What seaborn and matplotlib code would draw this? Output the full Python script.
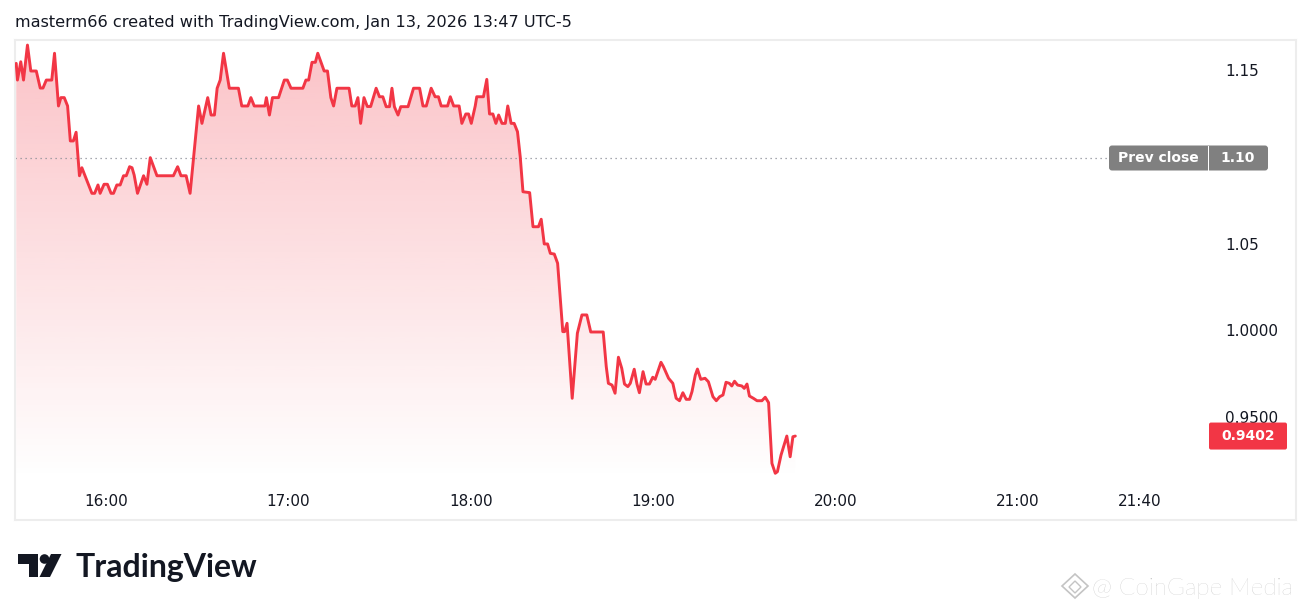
import numpy as np
import matplotlib
matplotlib.use("Agg")
import matplotlib.pyplot as plt
import seaborn as sns
import pandas as pd
from matplotlib.patches import FancyBboxPatch, Rectangle, Circle, Polygon
from matplotlib.transforms import IdentityTransform, blended_transform_factory

# ---------------- data (minutes after 15:30, price) ----------------
minutes = [0.4, 0.8, 1.9, 2.8, 4.1, 5.2, 7.0, 8.3, 9.2, 10.3, 12.1, 13.0, 14.3, 15.1, 16.2, 17.3,
           18.2, 19.2, 20.1, 21.2, 22.0, 25.3, 26.2, 27.3, 28.0, 29.3, 30.4, 31.6, 32.4, 33.5, 34.6,
           35.7, 36.6, 37.7, 38.5, 39.2, 40.3, 42.3, 43.4, 44.5, 46.7, 52.1, 53.5, 54.6, 56.3, 57.6,
           60.4, 61.5, 63.4, 64.5, 65.6, 66.5, 67.5, 68.6, 70.5, 73.5, 74.6, 76.6, 77.6, 78.7, 82.2,
           82.7, 83.7, 84.7, 86.7, 88.6, 89.6, 90.8, 94.7, 95.7, 96.6, 97.7, 98.8, 99.6, 101.7, 102.8,
           103.9, 104.8, 105.9, 109.9, 110.8, 111.9, 112.8, 113.7, 114.8, 115.9, 117.0, 118.8, 119.9,
           121.0, 122.1, 123.2, 124.0, 124.8, 126.0, 126.9, 129.3, 131.1, 133.1, 134.2, 135.3, 136.9,
           138.2, 139.3, 140.2, 142.3, 143.2, 144.3, 146.1, 147.0, 148.3, 149.2, 150.1, 151.4, 151.9,
           154.1, 155.2, 156.1, 157.2, 158.2, 159.1, 160.2, 161.3, 162.1, 163.2, 164.2, 165.3, 166.2,
           167.1, 169.3, 170.4, 172.2, 173.1, 174.1, 175.2, 176.1, 177.4, 178.5, 180.2, 180.8, 181.6,
           183.3, 185.0, 186.5, 188.1, 189.4, 193.5, 194.5, 195.2, 196.4, 197.4, 198.5, 199.6, 200.5,
           201.6, 202.4, 203.7, 204.6, 205.4, 206.6, 207.6, 208.7, 209.8, 210.6, 212.5, 213.3, 215.0,
           216.4, 217.5, 218.6, 219.7, 220.8, 221.9, 222.7, 223.8, 224.5, 225.6, 227.0, 228.1, 229.6,
           230.7, 231.8, 232.9, 233.9, 235.0, 235.8, 236.7, 237.7, 239.1, 239.9, 240.8, 241.6, 242.9,
           244.1, 245.7, 246.8, 247.9, 249.0, 250.1, 250.8, 252.0, 253.0, 253.9, 255.0, 255.9, 256.7]
prices = [1.1544, 1.1448, 1.1553, 1.1448, 1.1649, 1.1500, 1.1500, 1.1402, 1.1402, 1.1448, 1.1448,
          1.1602, 1.1299, 1.1347, 1.1347, 1.1299, 1.1098, 1.1098, 1.1148, 1.0898, 1.0944, 1.0797,
          1.0797, 1.0845, 1.0797, 1.0849, 1.0849, 1.0797, 1.0797, 1.0845, 1.0845, 1.0898, 1.0898,
          1.0950, 1.0944, 1.0902, 1.0797, 1.0898, 1.0849, 1.1002, 1.0898, 1.0898, 1.0950, 1.0898,
          1.0898, 1.0797, 1.1299, 1.1199, 1.1347, 1.1247, 1.1247, 1.1401, 1.1448, 1.1602, 1.1401,
          1.1401, 1.1299, 1.1299, 1.1347, 1.1299, 1.1299, 1.1347, 1.1247, 1.1347, 1.1347, 1.1448,
          1.1448, 1.1401, 1.1401, 1.1448, 1.1448, 1.1550, 1.1550, 1.1602, 1.1500, 1.1500, 1.1347,
          1.1299, 1.1401, 1.1401, 1.1299, 1.1299, 1.1347, 1.1199, 1.1347, 1.1296, 1.1296, 1.1401,
          1.1352, 1.1352, 1.1295, 1.1295, 1.1401, 1.1295, 1.1247, 1.1295, 1.1295, 1.1401, 1.1401,
          1.1299, 1.1299, 1.1401, 1.1352, 1.1352, 1.1299, 1.1299, 1.1352, 1.1299, 1.1299, 1.1199,
          1.1253, 1.1253, 1.1199, 1.1299, 1.1352, 1.1352, 1.1452, 1.1253, 1.1253, 1.1199, 1.1247,
          1.1199, 1.1199, 1.1299, 1.1199, 1.1199, 1.1151, 1.1007, 1.0806, 1.0801, 1.0605, 1.0605,
          1.0648, 1.0506, 1.0506, 1.0452, 1.0448, 1.0395, 1.0002, 1.0002, 1.0050, 0.9619, 0.9993,
          1.0098, 1.0098, 1.0000, 1.0000, 0.9801, 0.9705, 0.9695, 0.9648, 0.9855, 0.9791, 0.9701,
          0.9686, 0.9705, 0.9786, 0.9701, 0.9651, 0.9772, 0.9701, 0.9701, 0.9740, 0.9728, 0.9826,
          0.9801, 0.9734, 0.9705, 0.9619, 0.9605, 0.9651, 0.9613, 0.9613, 0.9657, 0.9753, 0.9787,
          0.9728, 0.9734, 0.9714, 0.9628, 0.9605, 0.9628, 0.9638, 0.9711, 0.9705, 0.9690, 0.9717,
          0.9695, 0.9690, 0.9676, 0.9701, 0.9632, 0.9619, 0.9605, 0.9605, 0.9625, 0.9594, 0.9245,
          0.9188, 0.9197, 0.9293, 0.9351, 0.9402, 0.9283, 0.9398, 0.9402]

time_tick_minutes = [30, 90, 150, 210, 270, 330, 370]
time_tick_labels = ["16:00", "17:00", "18:00", "19:00", "20:00", "21:00", "21:40"]
price_tick_values = [1.15, 1.05, 1.00, 0.95]
price_tick_labels = ["1.15", "1.05", "1.0000", "0.9500"]
prev_close = 1.10
prev_close_label = "1.10"
last_price = 0.9402
last_price_label = "0.9402"
header_text = "masterm66 created with TradingView.com, Jan 13, 2026 13:47 UTC-5"
brand_text = "TradingView"
watermark_text = "@ CoinGape Media"

# ---------------- style ----------------
RED = "#f23645"
INK = "#131722"
sns.set_theme(style="white")
plt.rcParams["font.family"] = ["DejaVu Sans"]

W, H = 1311, 611
fig = plt.figure(figsize=(W / 100, H / 100), dpi=100)
fig.patch.set_facecolor("white")


def fx(px):
    return px / W


def fy(py):
    return 1 - py / H


ax = fig.add_axes([fx(15), fy(520), (1296 - 15) / W, (520 - 40) / H])
ax.set_facecolor("white")

df = pd.DataFrame({"minute": minutes, "price": prices})

XMIN, XMAX = 0.0, 421.4
YMIN, YMAX = 0.89195, 1.16782
PANE_BOTTOM = 0.9149

# gradient fill under the line
poly = ax.fill_between(df["minute"], df["price"], PANE_BOTTOM, facecolor="none", edgecolor="none")
n = 256
alpha = np.linspace(0.0, 0.30, n).reshape(n, 1)
rgba = np.zeros((n, 1, 4))
rgba[..., 0] = 242 / 255
rgba[..., 1] = 54 / 255
rgba[..., 2] = 69 / 255
rgba[..., 3] = alpha
im = ax.imshow(rgba, extent=[XMIN, XMAX, PANE_BOTTOM, 1.165], origin="lower",
               aspect="auto", interpolation="bilinear", zorder=1)
im.set_clip_path(poly.get_paths()[0], transform=ax.transData)

sns.lineplot(data=df, x="minute", y="price", color=RED, linewidth=2.1,
             estimator=None, sort=False, ax=ax, zorder=3)

ax.set_xlim(XMIN, XMAX)
ax.set_ylim(YMIN, YMAX)
ax.set_xticks([])
ax.set_yticks([])
ax.set_xlabel("")
ax.set_ylabel("")
for sp in ax.spines.values():
    sp.set_visible(True)
    sp.set_color("#ededed")
    sp.set_linewidth(1.5)

# previous-close dotted line
trans_xa_yd = blended_transform_factory(ax.transAxes, ax.transData)
ax.plot([0, (1109 - 15) / 1281], [prev_close, prev_close], transform=trans_xa_yd,
        color="#8a8d96", linewidth=0.9, linestyle=(0, (1, 3)), zorder=2)

# time labels
trans_xd_ya = blended_transform_factory(ax.transData, ax.transAxes)
for m, lab in zip(time_tick_minutes, time_tick_labels):
    ax.text(m, (520 - 501) / 480, lab, transform=trans_xd_ya, ha="center", va="center",
            fontsize=11, color=INK)

# price labels
for v, lab in zip(price_tick_values, price_tick_labels):
    ax.text((1225 - 15) / 1281, v, lab, transform=trans_xa_yd, ha="left", va="center",
            fontsize=11, color=INK, zorder=4)

# boxes in pixel coordinates
ident = IdentityTransform()
pc_y = ax.transData.transform((0, prev_close))[1]
box = FancyBboxPatch((1109, pc_y - 12.5), 159, 25, boxstyle="round,pad=0,rounding_size=3",
                     transform=ident, facecolor="#808080", edgecolor="none", zorder=5)
fig.add_artist(box)
fig.add_artist(Rectangle((1207.5, pc_y - 12.5), 1.5, 25, transform=ident,
                         facecolor="white", edgecolor="none", zorder=6))
fig.text(1158, pc_y, "Prev close", transform=ident, ha="center", va="center",
         fontsize=10, fontweight="bold", color="white", zorder=7)
fig.text(1238, pc_y, prev_close_label, transform=ident, ha="center", va="center",
         fontsize=10, fontweight="bold", color="white", zorder=7)

lp_y = ax.transData.transform((0, last_price))[1]
rbox = FancyBboxPatch((1209, lp_y - 13.5), 78, 27, boxstyle="round,pad=0,rounding_size=2",
                      transform=ident, facecolor=RED, edgecolor="none", zorder=5)
fig.add_artist(rbox)
fig.text(1248, lp_y, last_price_label, transform=ident, ha="center", va="center",
         fontsize=10, fontweight="bold", color="white", zorder=7)

# header
fig.text(fx(15), fy(22), header_text, ha="left", va="center", fontsize=11.65, color=INK)

# TradingView logo icon
def P(px, py):
    return (px, H - py)

fig.add_artist(Polygon([P(18, 554), P(38, 554), P(38, 577), P(29, 577), P(29, 564), P(18, 564)],
                       closed=True, transform=ident, facecolor=INK, edgecolor="none"))
fig.add_artist(Circle(P(44.5, 559), 4.8, transform=ident, facecolor=INK, edgecolor="none"))
fig.add_artist(Polygon([P(51, 554), P(61.5, 554), P(50, 577), P(39.5, 577)],
                       closed=True, transform=ident, facecolor=INK, edgecolor="none"))
fig.text(fx(75), fy(577), brand_text, ha="left", va="baseline", fontsize=23,
         fontweight="bold", family=["Lato", "DejaVu Sans"], color=INK)

# watermark
cx, cy = 1075, 586
fig.add_artist(Polygon([P(cx, cy - 12), P(cx + 13, cy), P(cx, cy + 12), P(cx - 13, cy)], closed=True,
                       transform=ident, facecolor="none", edgecolor="#c4c4c4", linewidth=1.2))
fig.add_artist(Polygon([P(cx, cy - 5), P(cx + 6, cy + 1), P(cx, cy + 7), P(cx - 6, cy + 1)], closed=True,
                       transform=ident, facecolor="none", edgecolor="#c4c4c4", linewidth=1.0))
fig.text(fx(1092), fy(595), watermark_text, ha="left", va="baseline", fontsize=17.5,
         fontweight="light", family=["Lato", "DejaVu Sans"], color="#bdbdbd")

fig.savefig("out.png", dpi=100, facecolor="white")
